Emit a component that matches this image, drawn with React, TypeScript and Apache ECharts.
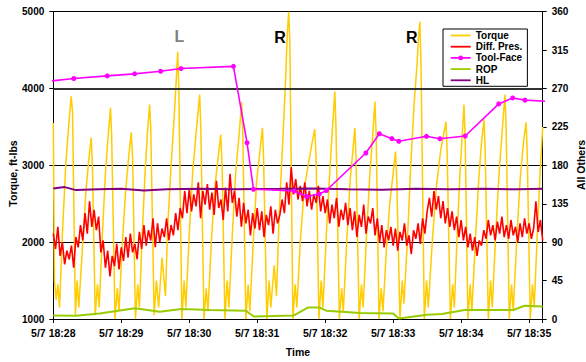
import React, { useEffect, useRef } from "react";
import * as echarts from "echarts";

// ---------- data ----------
const xTickLabels = ["5/7 18:28", "5/7 18:29", "5/7 18:30", "5/7 18:31", "5/7 18:32", "5/7 18:33", "5/7 18:34", "5/7 18:35"];
const seriesNames = ["Torque", "Diff. Pres.", "Tool-Face", "ROP", "HL"];
const leftTicks = [1000, 2000, 3000, 4000, 5000];
const rightTicks = [0, 45, 90, 135, 180, 225, 270, 315, 360];

// seconds after 18:28:00, ft-lbs
const torque: [number, number][] = [
  [0, 3550], [1, 1500], [2.5, 1250], [4, 1450], [5.5, 1150], [8, 2100], [11, 3000], [13.5, 3500], [15.8, 3900], [17, 3700], [19.5, 1050],
  [21, 1500], [22.5, 1150], [26, 2000], [29, 2700], [31.5, 3100], [33.5, 3360], [34.5, 3000], [37, 1050],
  [39, 1450], [40.5, 1150], [43, 2000], [46, 2900], [48.5, 3400], [50.5, 3750], [51.5, 3400], [54.5, 1000],
  [56.5, 1400], [58, 1100], [61, 2000], [64, 2700], [66.5, 3100], [68.8, 3430], [70, 3100], [72.5, 1000],
  [74.5, 1450], [76, 1150], [78.5, 2100], [81, 2900], [83, 3400], [85, 3790], [86, 3500], [89, 1050],
  [91, 1500], [93, 1150], [96, 1800], [99, 1300], [101, 2200], [104, 3000], [107, 3700], [108.5, 4100], [109.8, 4480], [110.8, 4000], [113.5, 1000],
  [115.5, 1500], [117, 1150], [120, 2100], [123, 2900], [126.5, 3500], [129.2, 3920], [130.2, 3500], [133, 1000],
  [135, 1400], [136.5, 1100], [139.5, 2000], [142.5, 2700], [145.5, 3100], [147.8, 3400], [149, 3000], [151.5, 1000],
  [153.5, 1500], [155, 1150], [158, 2100], [161, 2900], [164, 3400], [166.3, 3820], [167.3, 3400], [170, 1000],
  [172, 1450], [173.5, 1100], [176.5, 2000], [179.5, 2800], [182.5, 3200], [184.6, 3490], [185.6, 3100], [188.5, 1000],
  [190.5, 1500], [192, 1150], [195, 1700], [197, 1300], [199.5, 2400], [202.5, 3300], [205, 4100], [206.5, 4700], [207.8, 5000], [208.8, 4600], [211.5, 1000],
  [213.5, 1450], [215, 1150], [218, 2000], [221.5, 2700], [225, 3000], [228.5, 3300], [230.8, 3470], [232, 3100], [234.5, 1000],
  [236.5, 1500], [238, 1150], [241, 2100], [244, 2900], [246.5, 3500], [248.5, 3960], [249.5, 3500], [252.5, 1000],
  [254.5, 1400], [256, 1100], [259, 2000], [262, 2800], [264.5, 3200], [266.2, 3490], [267.2, 3100], [270, 1000],
  [272, 1450], [273.5, 1150], [276.5, 2100], [279.5, 2900], [282, 3400], [283.9, 3830], [285, 3400], [287.5, 1000],
  [289.5, 1400], [291, 1100], [294, 1900], [297, 2500], [300, 2900], [302.1, 3180], [303.2, 2800], [306, 1000],
  [308, 1500], [309.5, 1200], [312.5, 2000], [315.5, 3000], [318.5, 3800], [321, 4300], [322.5, 4700], [323.6, 4870], [324.6, 4300], [327.5, 1000],
  [329.5, 1500], [331, 1150], [334.5, 2000], [338, 2700], [342, 3200], [344.5, 3400], [346.6, 3570], [347.6, 3200], [350.5, 1000],
  [352.5, 1450], [354, 1150], [356.5, 2100], [359, 2900], [361, 3400], [362.5, 3790], [363.5, 3400], [366, 1000],
  [368, 1450], [369.5, 1100], [372.5, 2000], [375.5, 2800], [378, 3300], [380.2, 3600], [381.2, 3200], [384, 1000],
  [386, 1500], [387.5, 1150], [390.5, 2100], [393.5, 2900], [396.5, 3500], [398.7, 3920], [399.7, 3500], [402.5, 1000],
  [404.5, 1450], [406, 1100], [409, 2000], [412, 2800], [415, 3300], [417.3, 3560], [418.3, 3200], [421, 1000],
  [423, 1450], [424.5, 1150], [427.5, 2200], [430, 3000], [432, 3500],
];

// sampled every 2 s from 18:28:00, right-axis units
const diffPresStep = 2;
const diffPres: number[] = [
  100, 82, 108, 74, 90, 64, 80, 70, 86, 60,
  96, 84, 110, 92, 124, 100, 138, 108, 128, 104,
  120, 78, 92, 60, 80, 50, 74, 62, 88, 58,
  84, 68, 96, 72, 100, 78, 88, 70, 102, 82,
  110, 86, 104, 92, 118, 84, 112, 90, 106, 96,
  118, 92, 110, 98, 124, 104, 130, 118, 150, 124,
  152, 126, 146, 132, 160, 118, 150, 134, 158, 128,
  148, 122, 162, 130, 140, 116, 154, 126, 170, 136,
  150, 120, 142, 108, 136, 112, 128, 98, 124, 106,
  130, 104, 126, 96, 122, 110, 132, 100, 128, 112,
  122, 140, 124, 160, 134, 178, 146, 164, 140, 156,
  138, 160, 132, 150, 128, 146, 136, 156, 126, 144,
  124, 140, 112, 134, 118, 142, 108, 128, 116, 136,
  110, 130, 104, 126, 96, 122, 108, 134, 100, 120,
  112, 130, 98, 118, 90, 110, 84, 104, 92, 108,
  86, 106, 80, 102, 92, 112, 86, 98, 76, 104,
  94, 112, 88, 118, 100, 126, 142, 120, 150, 128,
  144, 118, 138, 112, 130, 108, 126, 104, 120, 96,
  116, 92, 108, 84, 100, 80, 96, 74, 92, 86,
  104, 94, 116, 98, 110, 92, 114, 100, 120, 96,
  110, 94, 116, 98, 108, 90, 112, 96, 118, 100,
  112, 94, 106, 138, 102, 116, 92,
];

const toolFace: [number, number][] = [
  [-4, 278.5], [18.1, 281.7], [47.6, 284.8], [71.8, 287.2], [94.7, 290.2], [112.7, 293.4],
  [159, 296], [171, 206.5], [176.7, 152], [212.7, 150], [223.5, 143.5], [234.8, 146.5],
  [241, 150.5], [275.9, 194.5], [287.8, 217], [298.9, 211.3], [305, 208.2], [329.4, 214],
  [341.3, 211.2], [363.6, 214.4], [393.2, 252], [405.5, 259], [416.4, 256.4], [434.4, 255],
];

const rop: [number, number][] = [
  [0, 4], [20, 3.8], [41, 6.5], [72, 12.5], [94, 8.5], [113, 11.7], [138, 10.5], [170, 9.7],
  [177, 3], [212, 4], [225, 13.5], [235, 13.5], [241, 9.7], [271, 7], [300, 6.5], [305, 0.5],
  [330, 5], [343, 5.8], [363, 10.5], [406, 10.5], [416, 15.5], [432, 14.5],
];

const hl: [number, number][] = [
  [0, 153], [10, 154.5], [20, 151], [40, 152], [60, 152.5], [80, 150.5], [100, 152], [130, 152.5],
  [160, 152], [200, 152.5], [230, 153], [260, 152], [290, 151.5], [320, 152.5], [350, 152],
  [380, 152.5], [410, 152], [432, 152.5],
];

const FONT = "'Liberation Sans', Arial, Helvetica, sans-serif";
const LINE_ICON = "path://M0,3.6 H20 V5.4 H0 Z";
const MARKER_ICON = "path://M0,3.6 H20 V5.4 H0 Z M7.6,4.5 A2.4,2.4 0 1 1 12.4,4.5 A2.4,2.4 0 1 1 7.6,4.5 Z";

export default function App() {
  const ref = useRef<HTMLDivElement>(null);

  useEffect(() => {
    if (!ref.current) return;
    const chart = echarts.init(ref.current, undefined, { renderer: "svg" });
    const axisLabelY = {
      fontSize: 10,
      fontWeight: "bold" as const,
      color: "#000",
      fontFamily: FONT,
      margin: 9,
      formatter: (v: number) => String(v),
    };
    const option: any = {
      animation: false,
      backgroundColor: "#fff",
      textStyle: { fontFamily: FONT },
      grid: { left: 53.3, right: 43.3, top: 11.7, bottom: 42, containLabel: false },
      legend: {
        data: seriesNames.map((n, i) => ({ name: n, icon: i === 2 ? MARKER_ICON : LINE_ICON })),
        orient: "vertical",
        left: 443,
        top: 29,
        itemWidth: 20,
        itemHeight: 9,
        itemGap: 1.2,
        padding: [1.5, 5, 1, 7.7],
        borderColor: "#000",
        borderWidth: 1,
        borderRadius: 0,
        backgroundColor: "#fff",
        selectedMode: false,
        z: 10,
        textStyle: { fontSize: 10, fontWeight: "bold", color: "#000", fontFamily: FONT },
      },
      xAxis: {
        type: "value",
        min: 0,
        max: 432,
        interval: 60,
        name: "Time",
        nameLocation: "middle",
        nameGap: 27,
        nameTextStyle: { fontSize: 10.5, fontWeight: "bold", color: "#000", fontFamily: FONT },
        axisLine: { show: true, lineStyle: { color: "#000", width: 1 } },
        axisTick: { show: true, length: 4, inside: false, lineStyle: { color: "#000" } },
        axisLabel: {
          fontSize: 10.5,
          fontWeight: "bold",
          color: "#000",
          fontFamily: FONT,
          margin: 8,
          formatter: (v: number) => (v % 60 === 0 ? xTickLabels[Math.round(v / 60)] ?? "" : ""),
        },
        splitLine: { show: false },
      },
      yAxis: [
        {
          type: "value",
          min: leftTicks[0],
          max: leftTicks[leftTicks.length - 1],
          interval: 1000,
          position: "left",
          axisLine: { show: true, lineStyle: { color: "#000", width: 1 } },
          axisTick: { show: true, length: 4, inside: false, lineStyle: { color: "#000" } },
          axisLabel: axisLabelY,
          splitLine: { show: true, lineStyle: { color: "#000", width: 1 } },
        },
        {
          type: "value",
          min: rightTicks[0],
          max: rightTicks[rightTicks.length - 1],
          interval: 45,
          position: "right",
          axisLine: { show: true, lineStyle: { color: "#000", width: 1 } },
          axisTick: { show: true, length: 4, inside: false, lineStyle: { color: "#000" } },
          axisLabel: axisLabelY,
          splitLine: { show: false },
        },
      ],
      series: [
        {
          name: seriesNames[0],
          type: "line",
          yAxisIndex: 0,
          data: torque,
          symbol: "none",
          showSymbol: false,
          z: 2,
          lineStyle: { color: "#FFCC00", width: 1.5 },
          itemStyle: { color: "#FFCC00" },
          markLine: {
            silent: true,
            symbol: ["none", "none"],
            label: { show: false },
            lineStyle: { color: "#333", width: 2, type: "solid" },
            data: [{ yAxis: leftTicks[3] }],
          },
        },
        {
          name: seriesNames[1],
          type: "line",
          yAxisIndex: 1,
          data: diffPres.map((v, i) => [i * diffPresStep, v]),
          symbol: "none",
          showSymbol: false,
          z: 3,
          lineStyle: { color: "#FF0000", width: 1.6 },
          itemStyle: { color: "#FF0000" },
        },
        {
          name: seriesNames[2],
          type: "line",
          yAxisIndex: 1,
          data: toolFace,
          symbol: "circle",
          symbolSize: 5,
          showSymbol: true,
          z: 6,
          lineStyle: { color: "#FF00FF", width: 1.6 },
          itemStyle: { color: "#FF00FF" },
        },
        {
          name: seriesNames[3],
          type: "line",
          yAxisIndex: 1,
          data: rop,
          symbol: "none",
          showSymbol: false,
          z: 4,
          lineStyle: { color: "#99CC00", width: 2 },
          itemStyle: { color: "#99CC00" },
        },
        {
          name: seriesNames[4],
          type: "line",
          yAxisIndex: 1,
          data: hl,
          symbol: "none",
          showSymbol: false,
          z: 5,
          lineStyle: { color: "#800080", width: 2 },
          itemStyle: { color: "#800080" },
        },
      ],
      graphic: [
        {
          type: "text",
          x: 12.5,
          y: 173.5,
          rotation: Math.PI / 2,
          style: { text: "Torque, ft-lbs", fontSize: 10.5, fontWeight: "bold", fill: "#000", fontFamily: FONT, align: "center", verticalAlign: "middle" },
        },
        {
          type: "text",
          x: 581,
          y: 165,
          rotation: Math.PI / 2,
          style: { text: "All Others", fontSize: 10.5, fontWeight: "bold", fill: "#000", fontFamily: FONT, align: "center", verticalAlign: "middle" },
        },
        {
          type: "text",
          x: 179.5,
          y: 36,
          style: { text: "L", fontSize: 16, fontWeight: "bold", fill: "#808080", fontFamily: FONT, align: "center", verticalAlign: "middle" },
        },
        {
          type: "text",
          x: 280,
          y: 37.5,
          style: { text: "R", fontSize: 16, fontWeight: "bold", fill: "#000", fontFamily: FONT, align: "center", verticalAlign: "middle" },
        },
        {
          type: "text",
          x: 411.7,
          y: 37.5,
          style: { text: "R", fontSize: 16, fontWeight: "bold", fill: "#000", fontFamily: FONT, align: "center", verticalAlign: "middle" },
        },
      ],
    };
    chart.setOption(option);
    return () => chart.dispose();
  }, []);

  return <div ref={ref} style={{ position: "fixed", left: 0, top: 0, width: 586, height: 362 }} />;
}
